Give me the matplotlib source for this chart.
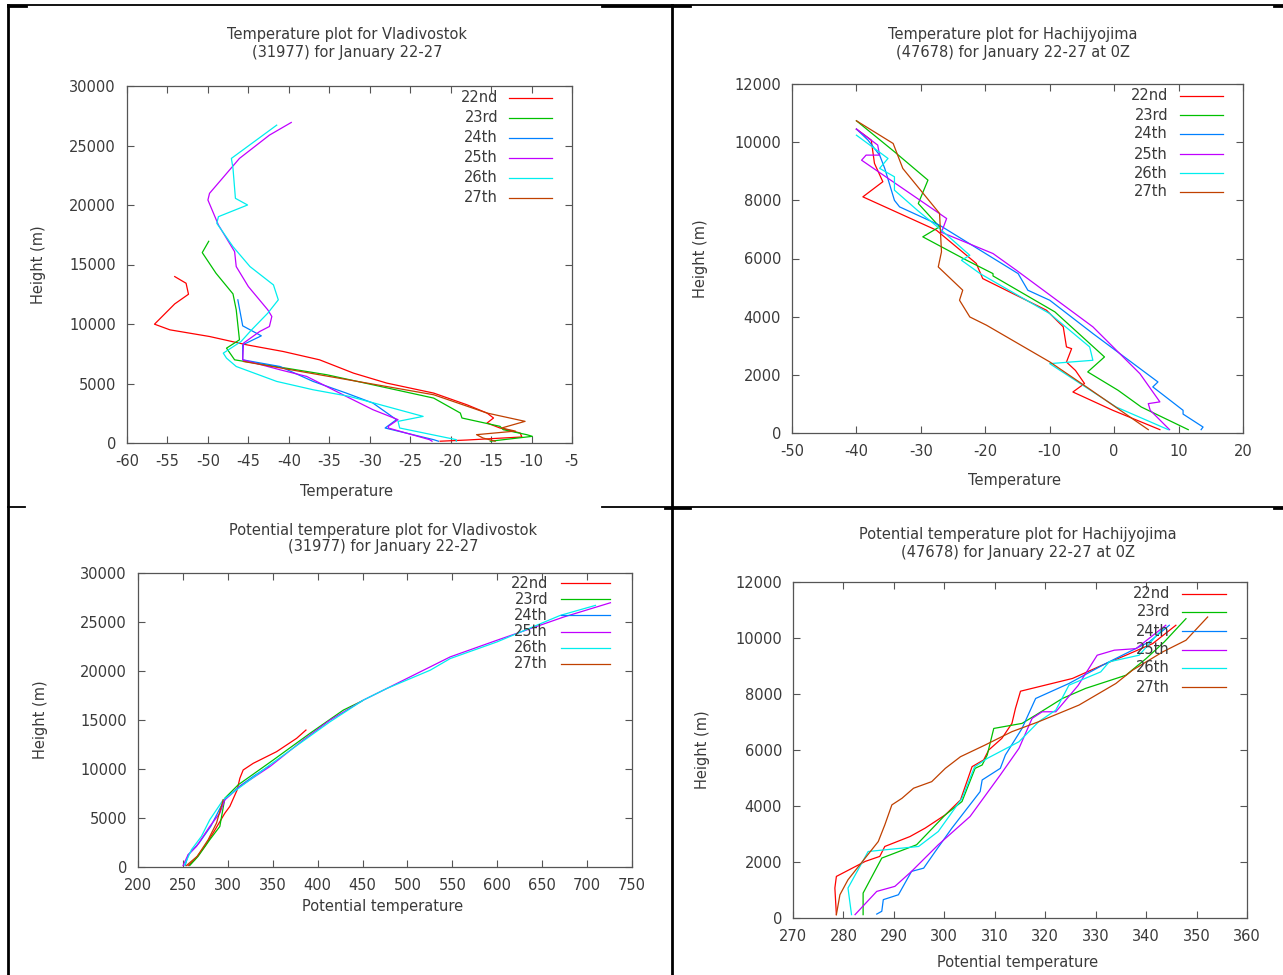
import matplotlib
matplotlib.use("Agg")
import matplotlib.pyplot as plt
from matplotlib.lines import Line2D

W, H = 1283, 975
DAYS = ["22nd", "23rd", "24th", "25th", "26th", "27th"]
COLORS = ["#ff0000", "#00c000", "#0080ff", "#c000ff", "#00eeee", "#c04000"]

# --- Vladivostok temperature (degC) vs height (m)
vl_t = {
    "22nd": ([-21.3, -18.0, -13.5, -11.2, -11.4, -13.9, -15.5, -14.7, -15.5, -18.0, -22.1, -27.9, -32.0,
              -36.2, -40.7, -45.2, -49.8, -54.7, -56.6, -54.1, -52.4, -52.7, -54.1],
             [150, 250, 420, 505, 840, 1260, 1680, 2100, 2515, 3215, 4195, 5035, 5870,
              6990, 7690, 8250, 8950, 9510, 9985, 11690, 12500, 13425, 13985]),
    "23rd": ([-15.1, -9.9, -10.6, -13.5, -13.9, -18.6, -18.8, -22.1, -35.3, -46.7, -47.7, -46.1, -46.5,
              -46.9, -49.0, -50.7, -49.9],
             [150, 560, 700, 1120, 1400, 2100, 2517, 3775, 5735, 6990, 7970, 8670, 11190,
              12530, 14265, 16000, 16950]),
    "24th": ([-21.5, -22.1, -28.1, -26.7, -29.6, -32.9, -37.0, -41.1, -45.7, -45.7, -43.4, -45.7, -46.3],
             [150, 280, 1260, 1960, 3355, 4195, 5175, 6430, 6990, 8250, 9005, 9845, 12030]),
    "25th": ([-22.3, -22.6, -27.7, -27.7, -26.5, -29.6, -32.9, -37.8, -41.1, -45.7, -45.6, -43.6, -42.4,
              -42.1, -42.6, -45.0, -46.5, -46.7, -48.7, -50.0, -49.8, -46.1, -42.4, -39.7],
             [150, 280, 1260, 1400, 1960, 2797, 3915, 5595, 6155, 6990, 8390, 9370, 9790,
              10630, 11190, 13145, 14825, 16080, 18320, 20420, 20980, 23915, 25870, 26935]),
    "26th": ([-19.3, -19.3, -26.3, -26.5, -23.4, -28.7, -32.5, -37.0, -41.5, -46.5, -47.7, -48.1, -45.9,
              -44.6, -42.6, -41.3, -41.9, -44.8, -46.9, -48.9, -48.7, -45.1, -46.6, -46.9, -47.1, -41.5],
             [150, 280, 1260, 1820, 2237, 3215, 3915, 4475, 5175, 6430, 7130, 7550, 8530,
              9510, 10910, 12030, 13285, 14825, 16500, 18460, 19020, 20000, 20560, 23075, 23915, 26710]),
    "27th": ([-14.5, -16.0, -16.8, -12.0, -13.7, -10.8, -15.5, -22.1, -45.6],
             [150, 420, 700, 1000, 1260, 1820, 2517, 4055, 6850]),
}

# --- Hachijyojima temperature (degC) vs height (m)
ha_t = {
    "22nd": ([7.1, -0.2, -6.4, -4.6, -6.0, -7.4, -6.6, -7.4, -7.9, -10.5, -20.4, -21.4, -27.6, -39.0,
              -35.9, -37.2, -37.7, -40.0],
             [115, 780, 1410, 1700, 2150, 2440, 2900, 2960, 3650, 4220, 5310, 5830, 6975, 8120,
              8640, 9270, 10070, 10450]),
    "23rd": ([11.5, 4.2, 0.6, -4.1, -1.5, -9.2, -18.8, -18.8, -22.9, -29.7, -27.1, -30.4, -28.9, -34.1,
              -40.0],
             [115, 895, 1470, 2100, 2615, 4165, 5400, 5480, 5940, 6745, 7090, 7890, 8695, 9670,
              10735]),
    "24th": ([13.5, 13.8, 10.7, 10.7, 6.0, 6.8, -3.3, -10.0, -13.4, -14.9, -27.1, -33.3, -34.1, -35.6,
              -36.4, -38.2, -40.0],
             [115, 205, 650, 780, 1585, 1755, 3420, 4565, 4910, 5480, 7145, 7775, 8000, 9095,
              9555, 10070, 10450]),
    "25th": ([8.6, 5.6, 5.3, 7.1, 4.0, -3.3, -15.2, -18.8, -26.8, -26.0, -39.2, -38.5, -36.4, -36.7,
              -40.0],
             [115, 780, 1010, 1070, 2040, 3650, 5600, 6170, 6900, 7375, 9380, 9555, 9555, 9900,
              10450]),
    "26th": ([8.4, 0.3, -10.0, -3.3, -3.8, -10.0, -20.8, -23.7, -22.4, -27.1, -30.5, -34.1, -34.1,
              -36.4, -35.1, -40.0],
             [115, 895, 2385, 2500, 2960, 4105, 5480, 5940, 6110, 7030, 7650, 8350, 8810,
              9100, 9440, 10240]),
    "27th": ([5.3, -4.3, -10.0, -19.8, -22.4, -24.0, -23.5, -27.3, -26.8, -27.1, -32.8, -34.3, -40.0],
             [115, 1585, 2445, 3705, 3990, 4565, 4910, 5710, 6230, 7550, 9095, 9955, 10735]),
}

# --- Vladivostok potential temperature (K) vs height (m)
vl_th = {
    "22nd": ([255.8, 263.2, 274.3, 283.6, 296.7, 302.2, 310.4, 313.4, 317.1, 328.3, 354.3, 376.6, 387.0],
             [150, 745, 2100, 3460, 5495, 6175, 7870, 9055, 9900, 10580, 11770, 13130, 13975]),
    "23rd": ([257.6, 266.9, 279.9, 291.1, 296.7, 311.5, 350.6, 391.4, 428.6, 449.1],
             [150, 1085, 2780, 4140, 7020, 8380, 10920, 13635, 16010, 16925]),
    "24th": ([252.5, 256.0, 268.0, 281.0, 292.5, 297.5, 314.0, 330.0, 346.0],
             [150, 1250, 2450, 4150, 6200, 7000, 8300, 9350, 10300]),
    "25th": ([250.2, 255.8, 265.1, 279.9, 291.1, 296.7, 313.4, 346.8, 384.0, 413.8, 450.9, 480.7,
              525.3, 547.6, 599.6, 674.0, 726.0],
             [150, 1255, 2100, 4140, 5495, 6850, 8210, 10245, 12960, 14990, 17030, 18385,
              20420, 21440, 23135, 25510, 26965]),
    "26th": ([252.0, 259.5, 270.6, 279.9, 294.8, 313.0, 346.8, 380.3, 413.8, 450.9, 477.0, 525.3,
              547.6, 599.6, 670.3, 709.3],
             [240, 1765, 3120, 4815, 6850, 8100, 10415, 12620, 14820, 17030, 18215, 20080,
              21270, 22965, 25680, 26695]),
    "27th": ([253.9, 266.0, 278.1, 287.4, 294.8],
             [150, 1100, 2780, 4480, 6850]),
}

# --- Hachijyojima potential temperature (K) vs height (m)
ha_th = {
    "22nd": ([278.6, 278.3, 278.6, 284.3, 287.2, 288.2, 293.2, 296.2, 300.2, 303.2, 305.5, 307.8,
              308.8, 311.4, 313.4, 314.1, 315.1, 325.4, 331.3, 336.0, 341.3, 345.9],
             [120, 1070, 1485, 2020, 2200, 2555, 2910, 3210, 3685, 4215, 5405, 5645,
              6000, 6415, 6950, 7485, 8100, 8555, 9030, 9385, 9800, 10455]),
    "23rd": ([283.9, 283.9, 287.6, 294.5, 300.2, 303.5, 306.1, 307.5, 308.5, 309.8, 315.4, 318.1,
              323.4, 328.0, 336.0, 338.0, 340.0, 343.6, 347.9],
             [120, 890, 2140, 2615, 3685, 4160, 5345, 5465, 5820, 6770, 6950, 7245,
              7840, 8200, 8670, 8970, 9265, 9860, 10690]),
    "24th": ([286.6, 287.6, 287.9, 290.9, 293.5, 295.9, 298.2, 301.5, 307.1, 307.5, 311.1, 312.1,
              315.4, 318.1, 324.7, 332.0, 340.6, 344.6],
             [140, 240, 655, 830, 1665, 1780, 2375, 3210, 4515, 4930, 5345, 5820,
              6770, 7840, 8375, 9090, 9860, 10455]),
    "25th": ([282.3, 286.6, 290.2, 293.5, 298.8, 305.1, 311.1, 314.8, 317.4, 319.4, 322.1, 326.5,
              330.3, 333.7, 338.0, 343.9],
             [120, 950, 1130, 1665, 2615, 3625, 5110, 6060, 7130, 7365, 7365, 8300,
              9385, 9565, 9620, 10455]),
    "26th": ([281.6, 280.9, 284.9, 294.9, 298.8, 303.5, 306.0, 308.5, 314.8, 318.7, 322.1, 324.7,
              331.0, 332.7, 338.6, 343.3],
             [120, 1070, 2375, 2555, 3090, 4275, 5400, 5700, 6295, 7010, 7425, 8315,
              8790, 9150, 9385, 10335]),
    "27th": ([278.6, 279.3, 280.9, 284.3, 286.9, 288.2, 289.6, 291.6, 293.9, 297.5, 300.2, 303.2,
              308.1, 313.4, 318.7, 326.7, 334.0, 337.3, 343.3, 347.9, 352.2],
             [120, 830, 1365, 2140, 2730, 3325, 4040, 4275, 4635, 4870, 5345, 5760,
              6180, 6655, 7010, 7605, 8375, 8850, 9505, 9920, 10750]),
}

TXT = "#3a3a3a"
FRAME = "#555555"
plt.rcParams["font.family"] = "DejaVu Sans"
plt.rcParams["axes.unicode_minus"] = False

fig = plt.figure(figsize=(W / 100, H / 100), dpi=100)


def fx(x):
    return x / W


def fy(y):
    return 1 - y / H


def panel(box, data, xlim, xticks, ylim, yticks, title, xlabel, label_pos, leg):
    l, t, r, b = box
    ax = fig.add_axes([fx(l), fy(b), fx(r) - fx(l), fy(t) - fy(b)])
    for day, col in zip(DAYS, COLORS):
        xs, ys = data[day]
        ax.plot(xs, ys, color=col, lw=0.9)
    ax.set_xlim(*xlim)
    ax.set_ylim(*ylim)
    ax.set_xticks(xticks)
    ax.set_yticks(yticks)
    ax.tick_params(direction="in", length=5, width=0.8, color=FRAME, labelcolor=TXT,
                   labelsize=10.5, top=True, right=True, pad=8)
    for s in ax.spines.values():
        s.set_color(FRAME)
        s.set_linewidth(0.9)
    tx, ty1, ty2, lx, ly, yx = label_pos
    fig.text(fx(tx), fy(ty1), title[0], ha="center", va="center", color=TXT, fontsize=10.5)
    fig.text(fx(tx), fy(ty2), title[1], ha="center", va="center", color=TXT, fontsize=10.5)
    fig.text(fx(lx), fy(ly), xlabel, ha="center", va="center", color=TXT, fontsize=10.5)
    fig.text(fx(yx), fy((t + b) / 2), "Height (m)", ha="center", va="center", rotation=90,
             color=TXT, fontsize=10.5)
    # key: label right-aligned, then a short line sample
    txr, lx0, lx1, ys = leg
    for day, col, yy in zip(DAYS, COLORS, ys):
        fig.text(fx(txr), fy(yy), day, ha="right", va="center", color=TXT, fontsize=10.5)
        fig.add_artist(Line2D([fx(lx0), fx(lx1)], [fy(yy), fy(yy)], color=col, lw=0.9))
    return ax


panel((127, 86, 572, 443), vl_t, (-60, -5), range(-60, 0, 5), (0, 30000), range(0, 30001, 5000),
      ("Temperature plot for Vladivostok", "(31977) for January 22-27"), "Temperature",
      (347, 34, 53, 347, 491, 38),
      (498, 509, 552, [98, 118, 138, 158, 178, 198]))

panel((792, 84, 1243, 433), ha_t, (-50, 20), range(-50, 21, 10), (0, 12000), range(0, 12001, 2000),
      ("Temperature plot for Hachijyojima", "(47678) for January 22-27 at 0Z"), "Temperature",
      (1013, 34, 53, 1015, 480, 701),
      (1168, 1180, 1223, [96, 115, 134, 154, 173, 192]))

panel((138, 573, 632, 867), vl_th, (200, 750), range(200, 751, 50), (0, 30000), range(0, 30001, 5000),
      ("Potential temperature plot for Vladivostok", "(31977) for January 22-27"),
      "Potential temperature",
      (383, 530, 547, 383, 907, 40),
      (548, 561, 610, [583, 599, 615, 632, 648, 664]))

panel((793, 582, 1247, 918), ha_th, (270, 360), range(270, 361, 10), (0, 12000), range(0, 12001, 2000),
      ("Potential temperature plot for Hachijyojima", "(47678) for January 22-27 at 0Z"),
      "Potential temperature",
      (1018, 534, 552, 1018, 963, 702),
      (1170, 1182, 1226, [594, 612, 631, 650, 668, 687]))

# table rules around the four panels
rules = [
    ((8, 5), (1283, 5), 1.3), ((8, 5), (8, 975), 2.0), ((672, 5), (672, 975), 2.0),
    ((602, 507), (1283, 507), 1.3), ((8, 507), (25, 507), 1.3),
    ((8, 6), (26, 6), 2.0), ((602, 6), (690, 6), 2.0), ((1274, 6), (1283, 6), 2.0),
    ((665, 508), (690, 508), 2.0), ((1274, 508), (1283, 508), 2.0),
]
for (x0, y0), (x1, y1), w in rules:
    fig.add_artist(Line2D([fx(x0), fx(x1)], [fy(y0), fy(y1)], color="black", lw=w))

fig.savefig("out.png", dpi=100)
